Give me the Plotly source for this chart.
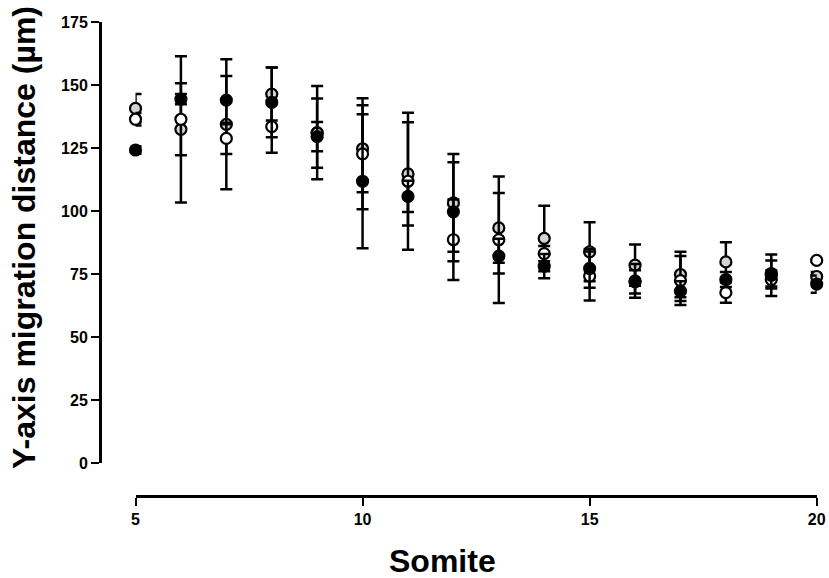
import plotly.graph_objects as go

W, H = 829, 578

somite = [5, 6, 7, 8, 9, 10, 11, 12, 13, 14, 15, 16, 17, 18, 19, 20]

filled_mean = [124.2, 144.4, 144.0, 143.1, 129.5, 111.8, 105.8, 99.7, 82.1, 78.1, 77.2, 71.9, 68.2, 72.8, 74.5, 71.0]
filled_err = [1.5, 2.0, 9.6, 13.8, 5.8, 26.6, 6.2, 19.6, 6.9, 4.8, 7.7, 4.6, 3.9, 3.0, 8.2, 3.4]

open_mean = [136.4, 136.4, 128.8, 133.5, 130.9, 122.7, 111.8, 88.6, 88.6, 83.1, 74.2, 72.3, 72.4, 67.6, 72.8, 80.4]
open_err = [2.5, 14.3, 6.2, 10.4, 13.7, 22.0, 27.2, 16.0, 25.1, 3.0, 9.7, 6.7, 9.7, 4.0, 3.6, 0.5]

grey_mean = [140.7, 132.4, 134.4, 146.4, 131.1, 124.7, 114.7, 103.2, 93.3, 89.1, 83.8, 78.5, 74.8, 79.8, 75.2, 74.0]
grey_err = [5.7, 29.0, 25.8, 10.5, 18.5, 17.3, 20.5, 19.4, 13.8, 13.0, 11.7, 8.2, 9.0, 7.8, 5.2, 1.8]

y_ticks = [0, 25, 50, 75, 100, 125, 150, 175]
x_ticks = [5, 10, 15, 20]

FONT = "Liberation Sans, Arial, sans-serif"

# screen-pixel geometry of the reference
x_left_px, x_right_px = 135.5, 816.7
y_bottom_px, y_top_px = 463.0, 22.0
yaxis_x_px = 100.0
xaxis_y_px = 496.0


def px(sx):
    return sx / W


def py(sy):
    return 1 - sy / H


fig = go.Figure()


def add_series(mean, err, fill):
    fig.add_trace(go.Scatter(
        x=somite, y=mean, mode="markers",
        marker=dict(size=11, color=fill, line=dict(color="black", width=2.2)),
        error_y=dict(type="data", array=err, visible=True, color="black",
                     thickness=2.5, width=6),
        cliponaxis=False, showlegend=False, hoverinfo="skip",
    ))


add_series(grey_mean, grey_err, "#d3d3d3")
add_series(open_mean, open_err, "white")
add_series(filled_mean, filled_err, "black")

fig.update_layout(
    template="none",
    width=W, height=H, autosize=False,
    margin=dict(l=0, r=0, t=0, b=0, pad=0, autoexpand=False),
    paper_bgcolor="white", plot_bgcolor="white",
    showlegend=False,
    xaxis=dict(
        domain=[px(x_left_px), px(x_right_px)],
        range=[5, 20], anchor="free", position=py(xaxis_y_px),
        automargin=False,
        tickvals=x_ticks, ticktext=[str(v) for v in x_ticks],
        ticks="outside", ticklen=8, tickwidth=2, tickcolor="black",
        showline=True, linecolor="black", linewidth=2.5,
        showgrid=False, zeroline=False,
        tickfont=dict(family=FONT, size=16, color="black", weight="bold"),
    ),
    yaxis=dict(
        domain=[py(y_bottom_px), py(y_top_px)],
        range=[0, 175], anchor="free", position=px(yaxis_x_px),
        automargin=False,
        tickvals=y_ticks, ticktext=[str(v) for v in y_ticks],
        ticks="outside", ticklen=8, tickwidth=2, tickcolor="black",
        showline=True, linecolor="black", linewidth=2.5,
        showgrid=False, zeroline=False,
        tickfont=dict(family=FONT, size=16, color="black", weight="bold"),
    ),
    annotations=[
        dict(text="Somite", xref="paper", yref="paper",
             x=px(443), y=py(561), xanchor="center", yanchor="middle",
             showarrow=False,
             font=dict(family=FONT, size=32, color="black", weight="bold")),
        dict(text="Y-axis migration distance (µm)", xref="paper", yref="paper",
             x=px(24), y=py(238), xanchor="center", yanchor="middle",
             textangle=-90, showarrow=False,
             font=dict(family=FONT, size=32, color="black", weight="bold")),
    ],
)

fig.write_html(
    "out.html",
    config={"displayModeBar": False, "staticPlot": True},
    post_script="document.body.style.margin='0';document.body.style.overflow='hidden';",
)
